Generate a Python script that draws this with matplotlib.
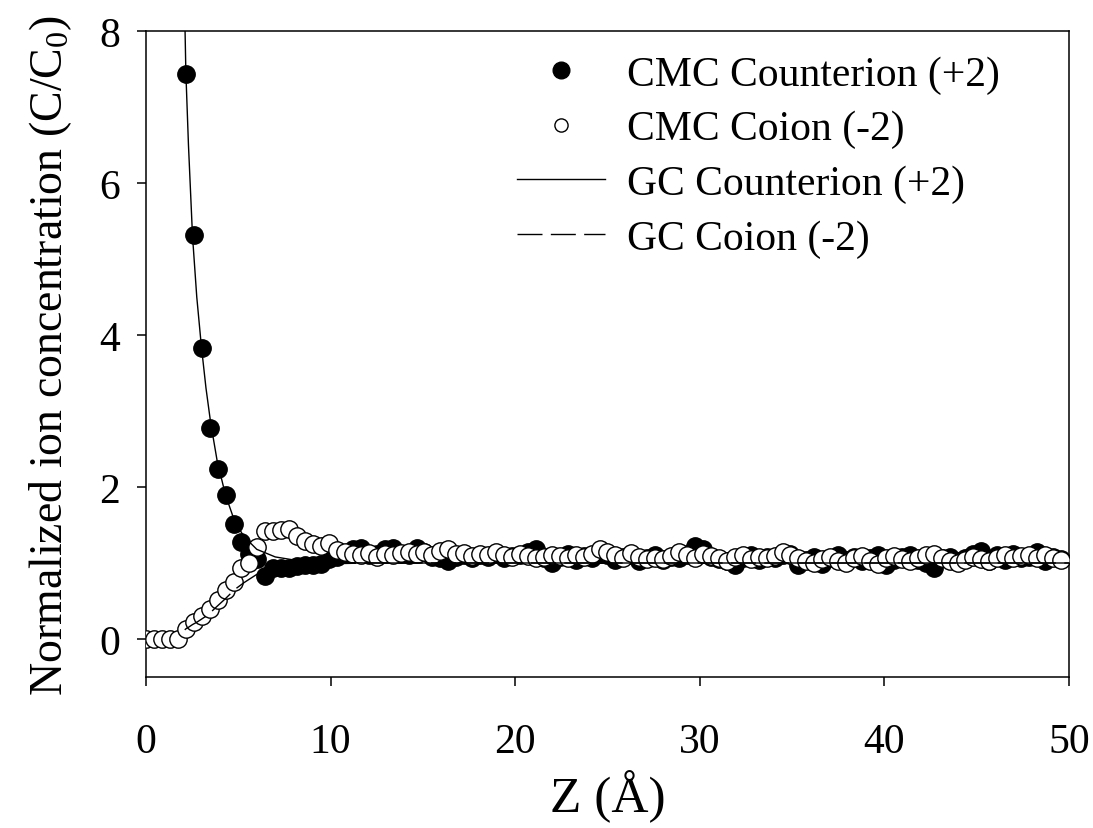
import numpy as np
import matplotlib
matplotlib.use("Agg")
import matplotlib.pyplot as plt
from matplotlib.lines import Line2D

plt.rcParams['font.family'] = ['Liberation Serif', 'DejaVu Serif']
plt.rcParams['mathtext.fontset'] = 'custom'
plt.rcParams['mathtext.rm'] = 'Liberation Serif'
plt.rcParams['mathtext.default'] = 'regular'

# bin width of the simulation profile (A)
dz = 0.431
z = np.arange(116) * dz

# CMC coion (-2), one value per bin starting at z = 0
cmc_coion = [0.0, 0.0, 0.0, 0.0, 0.0, 0.13, 0.22, 0.30, 0.39, 0.51,
             0.64, 0.75, 0.94, 1.00, 1.21, 1.42, 1.42, 1.43, 1.45, 1.36,
             1.29, 1.25, 1.22, 1.26, 1.17, 1.15, 1.12, 1.10, 1.13, 1.08,
             1.12, 1.10, 1.13, 1.15, 1.12, 1.14, 1.10, 1.16, 1.19, 1.12,
             1.13, 1.09, 1.12, 1.10, 1.14, 1.11, 1.08, 1.12, 1.09, 1.06,
             1.08, 1.11, 1.09, 1.07, 1.10, 1.08, 1.12, 1.19, 1.15, 1.10,
             1.06, 1.13, 1.08, 1.05, 1.07, 1.05, 1.09, 1.14, 1.10, 1.06,
             1.12, 1.09, 1.07, 1.03, 1.08, 1.10, 1.05, 1.08, 1.06, 1.09,
             1.14, 1.10, 1.07, 1.03, 1.00, 1.05, 1.08, 1.03, 1.00, 1.07,
             1.09, 1.03, 0.99, 1.06, 1.09, 1.05, 1.03, 1.07, 1.10, 1.12,
             1.06, 1.02, 1.00, 1.04, 1.08, 1.05, 1.02, 1.07, 1.10, 1.06,
             1.09, 1.11, 1.06, 1.10, 1.07, 1.04]

# CMC counterion (+2), starts at bin 5
counter_start = 5
cmc_counter = [7.43, 5.31, 3.83, 2.78, 2.24, 1.89, 1.51, 1.28, 1.12, 1.05,
               0.83, 0.93, 0.93, 0.94, 0.96, 0.97, 0.98, 0.99, 1.05,
               1.08, 1.12, 1.18, 1.20, 1.10, 1.12, 1.18, 1.20, 1.12, 1.10,
               1.20, 1.14, 1.08, 1.06, 1.03, 1.08, 1.10, 1.07, 1.10, 1.08,
               1.12, 1.06, 1.09, 1.10, 1.14, 1.18, 1.06, 1.00, 1.08, 1.12,
               1.04, 1.09, 1.07, 1.12, 1.10, 1.04, 1.08, 1.11, 1.03, 1.06,
               1.10, 1.04, 1.08, 1.06, 1.12, 1.22, 1.18, 1.08, 1.05, 1.02,
               0.97, 1.06, 1.10, 1.04, 1.08, 1.06, 1.10, 1.12, 0.98, 1.04,
               1.08, 0.99, 1.06, 1.10, 1.04, 1.08, 1.02, 1.06, 1.10, 0.97,
               1.04, 1.08, 1.10, 1.04, 1.00, 0.94, 1.06, 1.08, 1.02, 1.06,
               1.12, 1.16, 1.02, 1.10, 1.04, 1.12, 1.06, 1.08, 1.14, 1.02,
               1.08, 1.05]

# Gouy-Chapman curves
gc_z = [2.10, 2.16, 2.30, 2.52, 2.75, 3.00, 3.25, 3.50, 3.85, 4.30,
        4.80, 5.30, 6.00, 7.00, 8.00, 9.00, 10.0, 12.0, 20.0, 50.0]
gc_counter = [8.2, 7.45, 6.5, 5.3, 4.5, 3.85, 3.3, 2.85, 2.35, 1.9,
              1.55, 1.35, 1.18, 1.08, 1.04, 1.02, 1.01, 1.0, 1.0, 1.0]
gc_coion = [0.12, 0.134, 0.154, 0.19, 0.22, 0.26, 0.30, 0.35, 0.43, 0.53,
            0.65, 0.74, 0.85, 0.93, 0.96, 0.98, 0.99, 1.0, 1.0, 1.0]

fig = plt.figure(figsize=(10.93, 8.29), dpi=100)
ax = fig.add_axes([146/1093, 1-678/829, (1069-146)/1093, (678-32)/829])

zc = z[counter_start:counter_start + len(cmc_counter)]
ax.plot(zc, cmc_counter, 'o', ms=12.5, mfc='black', mec='black', mew=1, zorder=2)
ax.plot(z, cmc_coion, 'o', ms=12.5, mfc='white', mec='black', mew=1, zorder=3)
ax.plot(gc_z, gc_counter, '-', color='black', lw=1, zorder=4)
ax.plot(gc_z, gc_coion, color='black', lw=1, dashes=(18, 6), zorder=4)

ax.set_xlim(0, 50)
ax.set_ylim(-0.5, 8)
ax.set_xticks([0, 10, 20, 30, 40, 50])
ax.set_yticks([0, 2, 4, 6, 8])
ax.tick_params(direction='out', length=6.5, width=1.1, labelsize=30,
               top=False, right=False)
ax.tick_params(axis='x', pad=26)
ax.tick_params(axis='y', pad=12)
for s in ax.spines.values():
    s.set_linewidth(1.1)

ax.set_xlabel('Z (Å)', fontsize=37, labelpad=6)
ax.set_ylabel('Normalized ion concentration (C/C$_{0}$)', fontsize=33, labelpad=18)

handles = [
    Line2D([], [], ls='none', marker='o', ms=12, mfc='black', mec='black'),
    Line2D([], [], ls='none', marker='o', ms=9.5, mfc='white', mec='black'),
    Line2D([], [], color='black', lw=1),
    Line2D([], [], color='black', lw=1, dashes=(18, 6)),
]
labels = ['CMC Counterion (+2)', 'CMC Coion (-2)', 'GC Counterion (+2)', 'GC Coion (-2)']
fig.legend(handles, labels, loc='upper left', bbox_to_anchor=(517/1093, 1-56/829),
           frameon=False, fontsize=30, handlelength=2.1, handletextpad=0.55,
           labelspacing=0.39, borderpad=0, borderaxespad=0)

fig.savefig('out.png', dpi=100)
